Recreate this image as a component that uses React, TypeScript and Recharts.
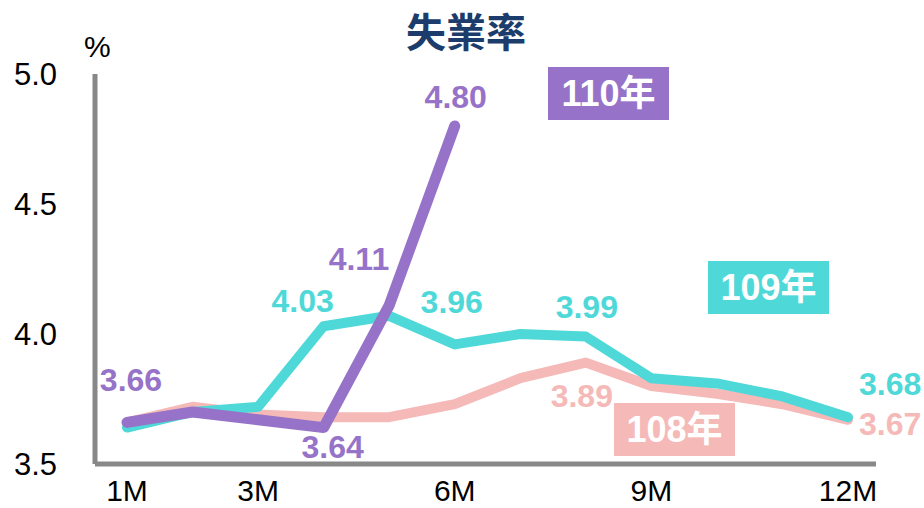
import { LineChart, Line, XAxis, YAxis } from 'recharts'

// monthly unemployment rate (%), 108-110年
const months = ['1M', '2M', '3M', '4M', '5M', '6M', '7M', '8M', '9M', '10M', '11M', '12M']
const rate108 = [3.66, 3.72, 3.69, 3.68, 3.68, 3.73, 3.83, 3.89, 3.8, 3.77, 3.73, 3.67]
const rate109 = [3.64, 3.7, 3.72, 4.03, 4.07, 3.96, 4.0, 3.99, 3.83, 3.81, 3.76, 3.68]
const rate110 = [3.66, 3.7, 3.67, 3.64, 4.11, 4.8]
const xTickLabels = ['1M', '3M', '6M', '9M', '12M']
const yTicks = [3.5, 4.0, 4.5, 5.0]

const data = months.map((m, i) => ({
  month: m,
  y108: rate108[i],
  y109: rate109[i],
  y110: i < rate110.length ? rate110[i] : null,
}))

const COLORS = {
  y108: '#f5b9b8',
  y109: '#4fd8d8',
  y110: '#9673c8',
  axis: '#888888',
  title: '#1c3d6b',
}

type Spot = { dx: number; dy: number; anchor?: 'start' | 'middle' | 'end' }

// which points get a value label, and where it sits relative to the point
const labelSpots: Record<string, Record<number, Spot>> = {
  y110: {
    0: { dx: 4, dy: -31 },
    3: { dx: 9, dy: 30 },
    4: { dx: 0, dy: -35, anchor: 'end' },
    5: { dx: 1, dy: -18 },
  },
  y109: {
    3: { dx: -21, dy: -14 },
    5: { dx: -3, dy: -31 },
    7: { dx: 1, dy: -19 },
    11: { dx: 11, dy: -22, anchor: 'start' },
  },
  y108: {
    7: { dx: -4, dy: 44 },
    11: { dx: 11, dy: 15, anchor: 'start' },
  },
}

const font = '"Liberation Sans", Arial, "Noto Sans CJK TC", sans-serif'

function makeLabel(key: string) {
  return (props: any) => {
    const { x, y, index, value } = props
    const spot = labelSpots[key]?.[index]
    if (!spot || value == null) return null
    return (
      <text
        key={`${key}-${index}`}
        x={x + spot.dx}
        y={y + spot.dy}
        textAnchor={spot.anchor ?? 'middle'}
        fill={COLORS[key as 'y108']}
        fontSize={32}
        fontWeight="bold"
        fontFamily={font}
      >
        {Number(value).toFixed(2)}
      </text>
    )
  }
}

const boxStyle = (bg: string, left: number, top: number): React.CSSProperties => ({
  position: 'absolute',
  left,
  top,
  width: 121,
  height: 53,
  background: bg,
  color: '#fff',
  fontFamily: font,
  fontWeight: 'bold',
  fontSize: 36,
  lineHeight: '53px',
  textAlign: 'center',
})

export default function App() {
  return (
    <div style={{ position: 'fixed', left: 0, top: 0, width: 924, height: 508, background: '#fff' }}>
      <LineChart width={924} height={508} data={data} margin={{ top: 74, right: 48, bottom: 0, left: 0 }}>
        <XAxis
          dataKey="month"
          interval={0}
          height={44}
          padding={{ left: 32, right: 28 }}
          axisLine={{ stroke: COLORS.axis, strokeWidth: 5 }}
          tickLine={false}
          tickSize={6}
          tickMargin={10}
          tick={{ fontSize: 30, fill: '#000', fontFamily: font }}
          tickFormatter={(v: string) => (xTickLabels.includes(v) ? v : '')}
        />
        <YAxis
          domain={[3.5, 5]}
          ticks={yTicks}
          width={95}
          axisLine={{ stroke: COLORS.axis, strokeWidth: 5 }}
          tickLine={false}
          tickSize={6}
          tickMargin={32}
          tick={{ fontSize: 31, fill: '#000', fontFamily: font }}
          tickFormatter={(v: number) => v.toFixed(1)}
        />
        <Line
          dataKey="y108"
          stroke={COLORS.y108}
          strokeWidth={10}
          strokeLinecap="round"
          strokeLinejoin="round"
          dot={false}
          activeDot={false}
          isAnimationActive={false}
          label={makeLabel('y108')}
        />
        <Line
          dataKey="y109"
          stroke={COLORS.y109}
          strokeWidth={10}
          strokeLinecap="round"
          strokeLinejoin="round"
          dot={false}
          activeDot={false}
          isAnimationActive={false}
          label={makeLabel('y109')}
        />
        <Line
          dataKey="y110"
          stroke={COLORS.y110}
          strokeWidth={11}
          strokeLinecap="round"
          strokeLinejoin="round"
          dot={false}
          activeDot={false}
          isAnimationActive={false}
          label={makeLabel('y110')}
        />
      </LineChart>

      <div
        style={{
          position: 'absolute',
          left: 366,
          top: 5,
          width: 200,
          textAlign: 'center',
          fontFamily: '"Noto Sans CJK TC", sans-serif',
          fontWeight: 'bold',
          fontSize: 40,
          lineHeight: '50px',
          color: COLORS.title,
        }}
      >
        失業率
      </div>
      <div
        style={{
          position: 'absolute',
          left: 84,
          top: 30,
          fontFamily: font,
          fontSize: 30,
          lineHeight: '34px',
          color: '#000',
        }}
      >
        %
      </div>
      <div style={boxStyle(COLORS.y110, 548, 67)}>110年</div>
      <div style={boxStyle(COLORS.y109, 708, 261)}>109年</div>
      <div style={boxStyle(COLORS.y108, 614, 403)}>108年</div>
    </div>
  )
}
